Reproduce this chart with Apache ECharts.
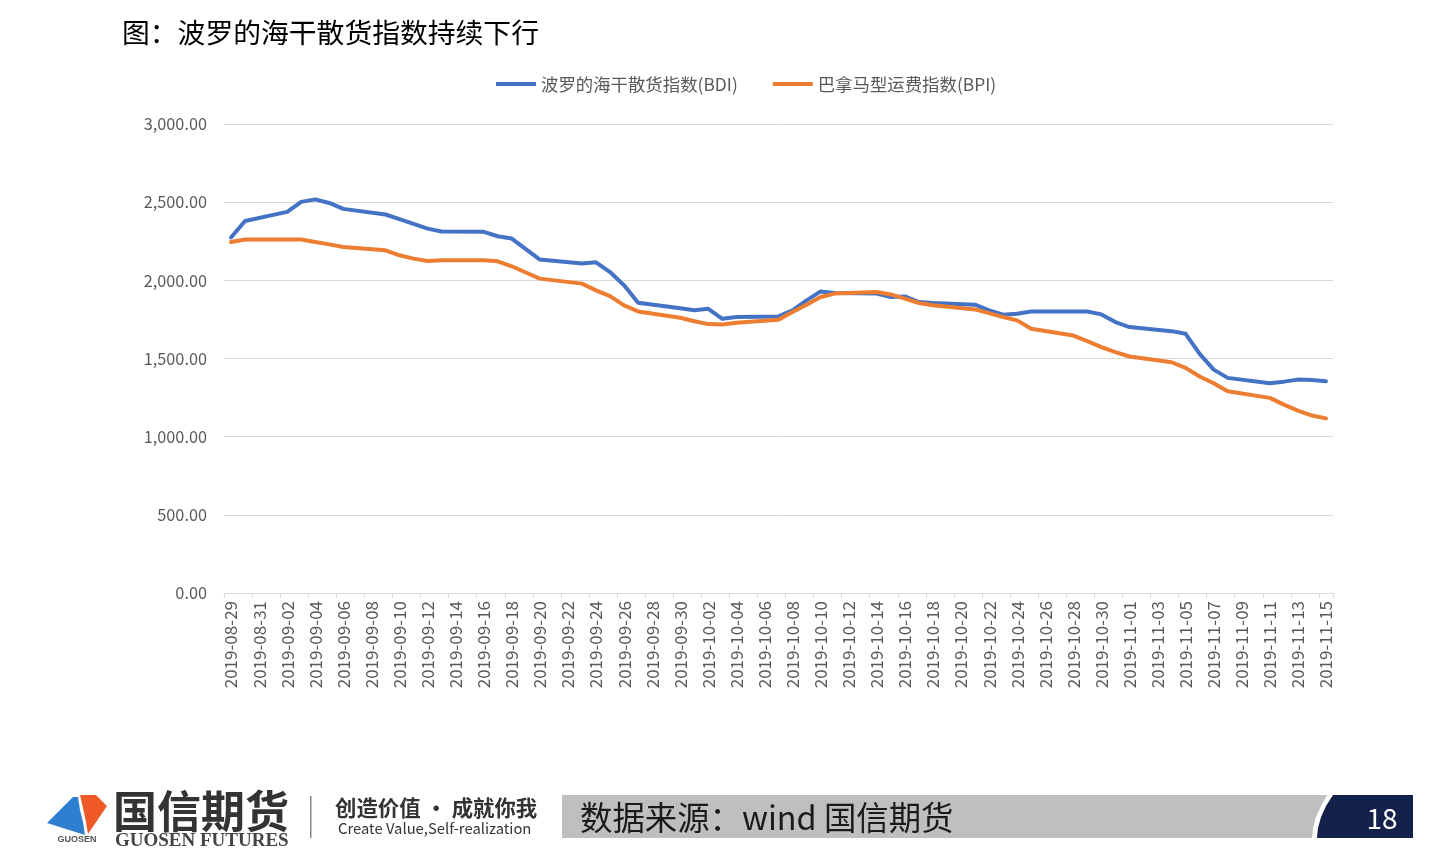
<!DOCTYPE html>
<html>
<head>
<meta charset="utf-8">
<script src="https://cdn.jsdelivr.net/npm/echarts@6/dist/echarts.min.js"></script>
<style>
  html, body { margin: 0; padding: 0; background: #ffffff; }
  #chart { width: 1440px; height: 857px; }
</style>
</head>
<body>
<div id="chart"></div>
<script>
// ---- data ----
const firstDay = '2019-08-29';
const lastDay = '2019-11-15';
const tradeDates = [
  '2019-08-29','2019-08-30',
  '2019-09-02','2019-09-03','2019-09-04','2019-09-05','2019-09-06',
  '2019-09-09','2019-09-10','2019-09-11','2019-09-12','2019-09-13',
  '2019-09-16','2019-09-17','2019-09-18','2019-09-19','2019-09-20',
  '2019-09-23','2019-09-24','2019-09-25','2019-09-26','2019-09-27',
  '2019-09-30','2019-10-01','2019-10-02','2019-10-03','2019-10-04',
  '2019-10-07','2019-10-08','2019-10-09','2019-10-10','2019-10-11',
  '2019-10-14','2019-10-15','2019-10-16','2019-10-17','2019-10-18',
  '2019-10-21','2019-10-22','2019-10-23','2019-10-24','2019-10-25',
  '2019-10-28','2019-10-29','2019-10-30','2019-10-31','2019-11-01',
  '2019-11-04','2019-11-05','2019-11-06','2019-11-07','2019-11-08',
  '2019-11-11','2019-11-12','2019-11-13','2019-11-14','2019-11-15'
];
const bdiValues = [
  2274, 2380,
  2438, 2502, 2518, 2495, 2457,
  2421, 2391, 2361, 2331, 2312,
  2310, 2282, 2267, 2200, 2133,
  2107, 2115, 2053, 1968, 1857,
  1822, 1808, 1818, 1754, 1765,
  1769, 1808, 1872, 1929, 1919,
  1915, 1893, 1897, 1861, 1855,
  1844, 1808, 1780, 1786, 1801,
  1800, 1801, 1782, 1733, 1701,
  1675, 1658, 1530, 1429, 1376,
  1342, 1352, 1365, 1363, 1354
];
const bpiValues = [
  2245, 2261,
  2261, 2261, 2245, 2230, 2213,
  2192, 2160, 2139, 2124, 2128,
  2128, 2122, 2090, 2050, 2011,
  1979, 1936, 1899, 1840, 1801,
  1761, 1738, 1720, 1718, 1728,
  1748, 1797, 1844, 1893, 1915,
  1925, 1910, 1883, 1855, 1840,
  1814, 1790, 1765, 1744, 1690,
  1647, 1611, 1573, 1541, 1513,
  1476, 1440, 1385, 1342, 1290,
  1248, 1205, 1167, 1135, 1117
];
const seriesNames = ['波罗的海干散货指数(BDI)', '巴拿马型运费指数(BPI)'];
const yTicks = { min: 0, max: 3000, interval: 500 };
const titleText = '图：波罗的海干散货指数持续下行';
const sourceText = '数据来源：wind 国信期货';
const pageNo = '18';

// ---- build calendar category axis ----
function pad(n) { return (n < 10 ? '0' : '') + n; }
const categories = [];
{
  const d = new Date(firstDay + 'T00:00:00Z');
  const end = new Date(lastDay + 'T00:00:00Z');
  while (d <= end) {
    categories.push(d.getUTCFullYear() + '-' + pad(d.getUTCMonth() + 1) + '-' + pad(d.getUTCDate()));
    d.setUTCDate(d.getUTCDate() + 1);
  }
}
function align(values) {
  const m = {};
  tradeDates.forEach((t, i) => { m[t] = values[i]; });
  return categories.map(c => (c in m ? m[c] : null));
}
function fmt(v) {
  const s = v.toFixed(2);
  const parts = s.split('.');
  parts[0] = parts[0].replace(/\B(?=(\d{3})+(?!\d))/g, ',');
  return parts.join('.');
}

const FONT = '"Noto Sans CJK SC", "Noto Sans", sans-serif';
const chart = echarts.init(document.getElementById('chart'), null, { renderer: 'canvas' });

chart.setOption({
  animation: false,
  backgroundColor: '#ffffff',
  textStyle: { fontFamily: FONT },
  title: {
    text: titleText,
    left: 117, top: 14,
    textStyle: { fontFamily: FONT, fontSize: 27.8, fontWeight: 'normal', color: '#000000' }
  },
  legend: {
    left: 491, top: 68,
    icon: 'rect', itemWidth: 40, itemHeight: 4, itemGap: 35,
    textStyle: { fontFamily: FONT, fontSize: 17.4, color: '#595959', lineHeight: 22 },
    data: seriesNames
  },
  grid: { left: 224, right: 107, top: 124, bottom: 264, containLabel: false },
  xAxis: {
    type: 'category',
    data: categories,
    boundaryGap: true,
    axisLine: { show: true, lineStyle: { color: '#d9d9d9', width: 1 } },
    axisTick: { show: true, interval: 1, length: 5, lineStyle: { color: '#d9d9d9' } },
    axisLabel: {
      interval: 1, rotate: 90, margin: 8,
      fontFamily: FONT, fontSize: 17, color: '#595959'
    },
    splitLine: { show: false }
  },
  yAxis: {
    type: 'value',
    min: yTicks.min, max: yTicks.max, interval: yTicks.interval,
    axisLine: { show: false },
    axisTick: { show: false },
    axisLabel: { formatter: fmt, margin: 17, fontFamily: FONT, fontSize: 16.3, color: '#595959' },
    splitLine: { lineStyle: { color: '#d9d9d9', width: 1 } }
  },
  series: [
    {
      name: seriesNames[0], type: 'line', data: align(bdiValues),
      connectNulls: true, showSymbol: false, symbol: 'none',
      lineStyle: { color: '#4472C4', width: 4, join: 'round', cap: 'round' },
      itemStyle: { color: '#4472C4' }
    },
    {
      name: seriesNames[1], type: 'line', data: align(bpiValues),
      connectNulls: true, showSymbol: false, symbol: 'none',
      lineStyle: { color: '#ED7D31', width: 4, join: 'round', cap: 'round' },
      itemStyle: { color: '#ED7D31' }
    }
  ],
  graphic: [
    // logo
    { type: 'polygon', shape: { points: [[47,823],[73,797],[78,797],[80,810],[83,822],[85,835]] }, style: { fill: '#2f7fd0' } },
    { type: 'polygon', shape: { points: [[80,795],[96,795],[107,806],[88,834],[86,822],[83,808]] }, style: { fill: '#f05a28' } },
    { type: 'text', x: 77, y: 840, style: { text: 'GUOSEN', align: 'center', verticalAlign: 'middle', fontFamily: '"Liberation Sans", sans-serif', fontSize: 9, fontWeight: 'bold', fill: '#555555' } },
    { type: 'text', x: 113, y: 811, style: { text: '国信期货', verticalAlign: 'middle', fontFamily: FONT, fontSize: 44, fontWeight: 'bold', fill: '#333333' } },
    { type: 'text', x: 115, y: 841, style: { text: 'GUOSEN FUTURES', verticalAlign: 'middle', fontFamily: '"Liberation Serif", serif', fontSize: 19, fontWeight: 'bold', fill: '#444444' } },
    { type: 'rect', shape: { x: 310, y: 796, width: 1.5, height: 42 }, style: { fill: '#888888' } },
    { type: 'text', x: 335, y: 808, style: { text: '创造价值 · 成就你我', verticalAlign: 'middle', fontFamily: FONT, fontSize: 21.4, fontWeight: 'bold', fill: '#333333' } },
    { type: 'text', x: 338, y: 828, style: { text: 'Create Value,Self-realization', verticalAlign: 'middle', fontFamily: FONT, fontSize: 14.8, fill: '#333333' } },
    // source banner
    { type: 'polygon', shape: { points: [[562,795],[1327,795],[1321,806],[1316,817],[1313,828],[1312,838],[562,838]] }, style: { fill: '#bfbfbf' } },
    { type: 'polygon', shape: { points: [[1333,795],[1413,795],[1413,838],[1317,838],[1318,828],[1321,817],[1326,806]] }, style: { fill: '#14224b' } },
    { type: 'text', x: 580, y: 818, style: { text: sourceText, verticalAlign: 'middle', fontFamily: FONT, fontSize: 32.4, fill: '#1a1a1a' } },
    { type: 'text', x: 1382, y: 818, style: { text: pageNo, fontFamily: FONT, fontSize: 28, fill: '#ffffff', align: 'center', verticalAlign: 'middle' } }
  ]
});
</script>
</body>
</html>
